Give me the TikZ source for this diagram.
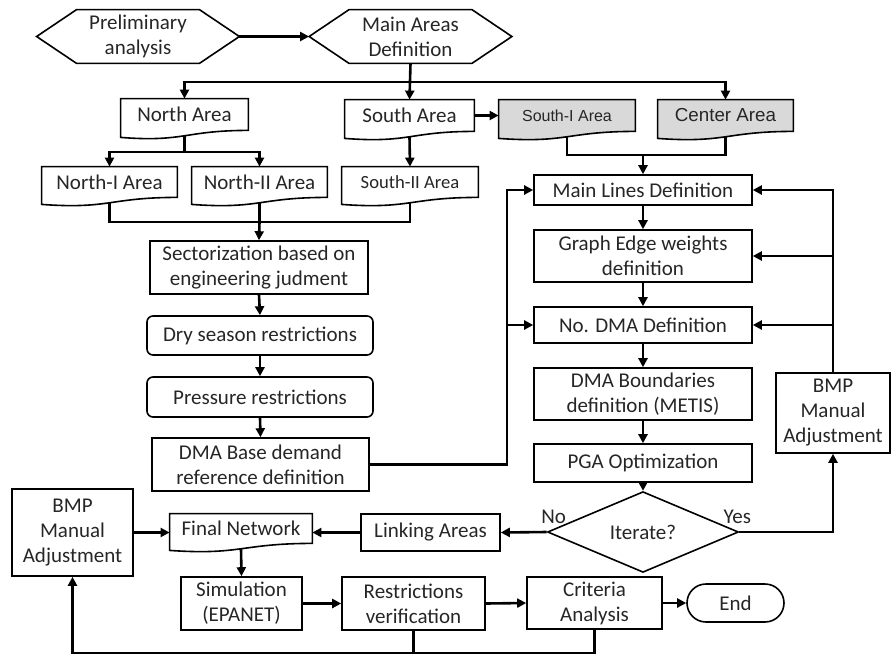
\documentclass[tikz,border=0pt]{standalone}
\usepackage{fontspec}
\setmainfont{Carlito}
\newfontfamily\arialfont{Liberation Sans}
\usetikzlibrary{positioning, arrows.meta, shapes.geometric, backgrounds}
\definecolor{areagray}{HTML}{D9D9D9}
\definecolor{inkgray}{HTML}{262626}
\tikzset{
  base/.style={inner sep=0pt, align=center, text=inkgray, font=\fontsize{10.5}{12.5}\selectfont},
  box/.style={base, draw, line width=0.8pt},
  roundbox/.style={box, rounded corners=3pt},
  decision/.style={base, draw, line width=0.8pt, diamond},
  terminal/.style={box, rounded corners=9.5pt},
  outline/.style={line width=0.8pt},
  conn/.style={line width=1.3pt},
  arr/.style={conn, -{Triangle[length=4.5pt,width=4.5pt]}},
}

\begin{document}
\begin{tikzpicture}[x=0.5pt, y=-0.5pt]
\useasboundingbox (0,0) rectangle (891,655);

\node[base, minimum width=101pt, minimum height=26.5pt] (prelim) at (138,36.5) {Preliminary\\analysis};
\node[base, minimum width=101pt, minimum height=26.5pt] (mainareas) at (410.5,36.5) {Main Areas\\Definition};

\node[base, minimum width=63.5pt, minimum height=15.5pt] (north) at (184.5,114.5) {North Area};
\node[base, minimum width=64.5pt, minimum height=15.5pt] (south) at (409.5,115.5) {South Area};
\node[base, minimum width=68pt, minimum height=15.5pt, font=\arialfont\fontsize{8}{10}\selectfont] (southI) at (567,115.5) {South-I Area};
\node[base, minimum width=67.5pt, minimum height=15.5pt, font=\arialfont\fontsize{9.4}{11}\selectfont] (centerA) at (725.5,115.5) {Center Area};
\node[base, minimum width=67.5pt, minimum height=15pt] (northI) at (109.5,182) {North-I Area};
\node[base, minimum width=67.5pt, minimum height=15pt] (northII) at (259.5,182) {North-II Area};
\node[base, minimum width=68pt, minimum height=15pt, font=\fontsize{9.3}{11}\selectfont] (southII) at (410,182) {South-II Area};

\node[box, minimum width=109pt, minimum height=26.5pt] (sector) at (259,267.5) {Sectorization based on\\engineering judment};
\node[roundbox, minimum width=113pt, minimum height=19.5pt] (dry) at (260,335.5) {Dry season restrictions};
\node[roundbox, minimum width=113pt, minimum height=20pt] (pressure) at (260,397) {Pressure restrictions};
\node[box, minimum width=108.5pt, minimum height=26.5pt] (dmabase) at (260.5,464.5) {DMA Base demand\\reference definition};

\node[box, minimum width=109pt, minimum height=15pt] (mainlines) at (643,190) {Main Lines Definition};
\node[box, minimum width=109pt, minimum height=26pt] (graph) at (643,256) {Graph Edge weights\\definition};
\node[box, minimum width=109pt, minimum height=18pt] (nodma) at (643,325) {No. DMA Definition};
\node[box, minimum width=109pt, minimum height=26pt] (bounds) at (643,394) {DMA Boundaries\\definition (METIS)};
\node[box, minimum width=109pt, minimum height=19pt] (pga) at (643,463) {PGA Optimization};
\node[decision, minimum width=95.5pt, minimum height=26pt] (iterate) at (643,532) {Iterate?};
\node[box, minimum width=57pt, minimum height=40pt] (bmpR) at (833,413) {BMP\\Manual\\Adjustment};

\node[box, minimum width=69.5pt, minimum height=18.5pt] (linking) at (430.5,532.5) {Linking Areas};
\node[base, minimum width=71pt, minimum height=14.5pt] (final) at (241,528.5) {Final Network};
\node[box, minimum width=60.5pt, minimum height=43.5pt] (bmpL) at (72.5,532.5) {BMP\\Manual\\Adjustment};
\node[box, minimum width=60.5pt, minimum height=26.5pt] (sim) at (241.5,603.5) {Simulation\\(EPANET)};
\node[box, minimum width=71.5pt, minimum height=26.5pt] (restr) at (413.5,603.5) {Restrictions\\verification};
\node[box, minimum width=67.5pt, minimum height=26pt] (criteria) at (594.5,603) {Criteria\\Analysis};
\node[terminal, minimum width=48.5pt, minimum height=19pt] (endN) at (735.5,603) {End};

\node[base, anchor=base] (labNo) at ([xshift=3.5pt, yshift=4.3pt]iterate.west) {No};
\node[base, anchor=base] (labYes) at ([xshift=-1pt, yshift=4.3pt]iterate.east) {Yes};

\begin{scope}[on background layer]
\foreach \n/\c in {north/white, south/white, southI/areagray, centerA/areagray, northI/white, northII/white, southII/white, final/white}
  \draw[outline, fill=\c] (\n.north west) -- (\n.north east) -- (\n.south east) .. controls (\n.south) and ([yshift=-6pt]\n.south) .. ([yshift=-3.5pt]\n.south west) -- cycle;
\foreach \n in {prelim, mainareas}
  \draw[outline] (\n.west) -- ([xshift=20pt]\n.north west) -- ([xshift=-20pt]\n.north east) -- (\n.east) -- ([xshift=-20pt]\n.south east) -- ([xshift=20pt]\n.south west) -- cycle;
\end{scope}

\coordinate (split) at (410.5,82);
\coordinate (splitN) at (184.5,152);
\coordinate (joinN) at (259.5,222);
\coordinate (joinS) at (643,155);
\coordinate (busL) at (507,464.5);
\coordinate (busB) at (0,653);

\draw[arr] (prelim.east) -- (mainareas.west);
\draw[arr] (mainareas.south) -- (south.north);
\draw[arr] (split) -| (north.north);
\draw[arr] (split) -| (centerA.north);
\draw[conn] ([yshift=-2.7pt]north.south) -- (splitN);
\draw[arr] (splitN) -| (northI.north);
\draw[arr] (splitN) -| (northII.north);
\draw[arr] (south.east) -- (southI.west);
\draw[arr] ([yshift=-2.7pt]south.south) -- (southII.north);

\draw[conn] ([yshift=-2.7pt]southI.south) |- (joinS) -| ([yshift=-2.7pt]centerA.south);
\draw[arr] (joinS) -- (mainlines.north);
\draw[conn] ([yshift=-2.7pt]northI.south) |- (joinN) -| ([yshift=-2.7pt]southII.south);
\draw[conn] ([yshift=-2.7pt]northII.south) -- (joinN);
\draw[arr] (joinN) -- (sector.north);

\draw[arr] (sector.south) -- (dry.north);
\draw[arr] (dry.south) -- (pressure.north);
\draw[arr] (pressure.south) -- (dmabase.north);
\draw[arr] (dmabase.east) -- (busL) |- (mainlines.west);
\draw[arr] (busL |- nodma.west) -- (nodma.west);

\draw[arr] (mainlines.south) -- (graph.north);
\draw[arr] (graph.south) -- (nodma.north);
\draw[arr] (nodma.south) -- (bounds.north);
\draw[arr] (bounds.south) -- (pga.north);
\draw[arr] (pga.south) -- (iterate.north);
\draw[arr] (iterate.east) -| (bmpR.south);
\draw[arr] (bmpR.north) |- (mainlines.east);
\draw[arr] (bmpR.north |- graph.east) -- (graph.east);
\draw[arr] (bmpR.north |- nodma.east) -- (nodma.east);

\draw[arr] (iterate.west) -- (linking.east);
\draw[arr] (linking.west) -- (linking.west -| final.east);
\draw[arr] (bmpL.east) -- (bmpL.east -| final.west);
\draw[arr] ([yshift=-2.7pt]final.south) -- (sim.north);
\draw[arr] (sim.east) -- (restr.west);
\draw[arr] (restr.east) -- (criteria.west);
\draw[arr] (criteria.east) -- (endN.west);
\draw[arr] (criteria.south) -- (criteria.south |- busB) -| (bmpL.south);
\draw[conn] (restr.south) -- (restr.south |- busB);
\end{tikzpicture}
\end{document}
